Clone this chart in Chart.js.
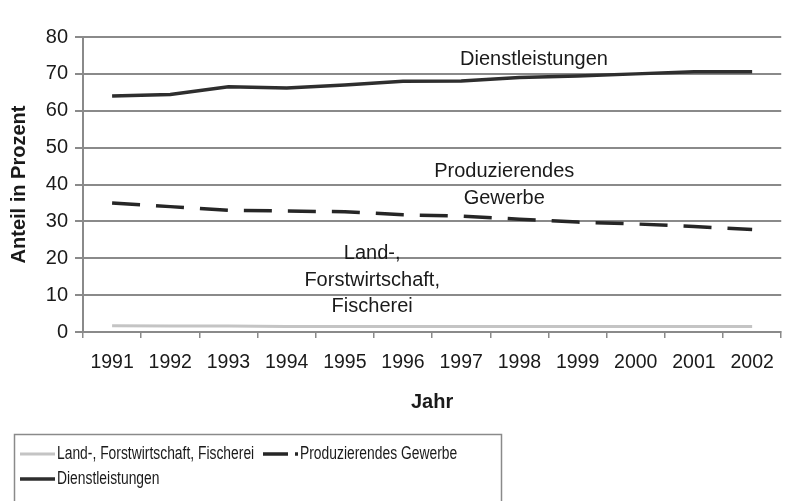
<!DOCTYPE html>
<html>
<head>
<meta charset="utf-8">
<script src="https://cdn.jsdelivr.net/npm/chart.js@4.4.1/dist/chart.umd.min.js"></script>
<style>
  html, body { margin: 0; padding: 0; background: #fff; }
  #wrap { width: 787px; height: 501px; }
</style>
</head>
<body>
<div id="wrap"><canvas id="chart" width="787" height="501"></canvas></div>
<script>
// Werte
const jahre = ['1991', '1992', '1993', '1994', '1995', '1996', '1997', '1998', '1999', '2000', '2001', '2002'];
const landwirtschaft = [1.7, 1.6, 1.6, 1.5, 1.5, 1.5, 1.5, 1.5, 1.5, 1.5, 1.5, 1.5];
const produzierend = [35.0, 34.0, 33.0, 32.8, 32.6, 31.8, 31.4, 30.6, 29.8, 29.3, 28.6, 27.8];
const dienstleistung = [64.0, 64.4, 66.5, 66.2, 67.0, 68.0, 68.1, 69.0, 69.4, 70.0, 70.6, 70.6];
const yTicks = [0, 10, 20, 30, 40, 50, 60, 70, 80];

const FONT = 'Arial, "Liberation Sans", sans-serif';

// Beschriftungen im Diagramm (x = Kategorie-Index, y = Wert)
const beschriftungen = [
    { text: 'Dienstleistungen', x: 7.25, y: 73.8 },
    { text: 'Produzierendes', x: 6.74, y: 43.4 },
    { text: 'Gewerbe', x: 6.74, y: 36.3 },
    { text: 'Land-,', x: 4.47, y: 21.4 },
    { text: 'Forstwirtschaft,', x: 4.47, y: 14.1 },
    { text: 'Fischerei', x: 4.47, y: 6.8 }
];

const labelPlugin = {
    id: 'labelPlugin',
    afterDatasetsDraw(chart) {
        const { ctx, scales: { x, y } } = chart;
        ctx.save();
        ctx.font = '20px ' + FONT;
        ctx.fillStyle = '#1a1a1a';
        ctx.textAlign = 'center';
        ctx.textBaseline = 'middle';
        beschriftungen.forEach(b => {
            ctx.fillText(b.text, x.getPixelForValue(b.x), y.getPixelForValue(b.y));
        });
        ctx.restore();
    }
};

// Legende mit Rahmen wie in Excel (Schrift etwas schmaler)
const legendPlugin = {
    id: 'legendPlugin',
    afterDraw(chart) {
        const ctx = chart.ctx;
        const ds = chart.data.datasets;
        ctx.save();
        ctx.strokeStyle = '#8a8a8a';
        ctx.lineWidth = 1.5;
        ctx.strokeRect(14.5, 434.5, 487, 80);

        const items = [
            { d: ds[0], x: 20, y: 454, dash: [] },
            { d: ds[1], x: 263, y: 454, dash: [25, 7, 3, 7] },
            { d: ds[2], x: 20, y: 479, dash: [] }
        ];
        items.forEach(it => {
            ctx.beginPath();
            ctx.setLineDash(it.dash);
            ctx.strokeStyle = it.d.borderColor;
            ctx.lineWidth = it.d.borderWidth;
            ctx.moveTo(it.x, it.y);
            ctx.lineTo(it.x + 35, it.y);
            ctx.stroke();
            ctx.setLineDash([]);

            ctx.save();
            ctx.translate(it.x + 37, it.y);
            ctx.scale(0.77, 1);
            ctx.font = '18px ' + FONT;
            ctx.fillStyle = '#1a1a1a';
            ctx.textBaseline = 'middle';
            ctx.textAlign = 'left';
            ctx.fillText(it.d.label, 0, 0);
            ctx.restore();
        });
        ctx.restore();
    }
};

new Chart(document.getElementById('chart'), {
    type: 'line',
    data: {
        labels: jahre,
        datasets: [
            {
                label: 'Land-, Forstwirtschaft, Fischerei',
                data: landwirtschaft,
                borderColor: '#c4c4c4',
                borderWidth: 3,
                pointRadius: 0,
                tension: 0
            },
            {
                label: 'Produzierendes Gewerbe',
                data: produzierend,
                borderColor: '#262626',
                borderWidth: 3.5,
                borderDash: [28, 16],
                pointRadius: 0,
                tension: 0
            },
            {
                label: 'Dienstleistungen',
                data: dienstleistung,
                borderColor: '#2e2e2e',
                borderWidth: 3.5,
                pointRadius: 0,
                tension: 0
            }
        ]
    },
    options: {
        responsive: false,
        animation: false,
        devicePixelRatio: 1,
        layout: { padding: { top: 37, right: 4, bottom: 81, left: 0 } },
        plugins: {
            legend: { display: false },
            tooltip: { enabled: false }
        },
        scales: {
            x: {
                offset: true,
                grid: {
                    offset: true,
                    drawOnChartArea: false,
                    tickLength: 6,
                    color: '#8a8a8a',
                    lineWidth: 1.5
                },
                border: { color: '#8a8a8a', width: 2 },
                ticks: {
                    color: '#1a1a1a',
                    padding: 13,
                    maxRotation: 0,
                    autoSkip: false,
                    font: { family: FONT, size: 19.5 }
                },
                title: {
                    display: true,
                    text: 'Jahr',
                    color: '#1a1a1a',
                    padding: { top: 0, bottom: 6 },
                    font: { family: FONT, size: 20, weight: 'bold' }
                },
                afterFit(scale) { scale.height = 88; }
            },
            y: {
                min: 0,
                max: 80,
                afterBuildTicks(scale) { scale.ticks = yTicks.map(v => ({ value: v })); },
                grid: {
                    color: '#8a8a8a',
                    lineWidth: 2,
                    tickLength: 8
                },
                border: { color: '#8a8a8a', width: 2 },
                ticks: {
                    color: '#1a1a1a',
                    padding: 7,
                    font: { family: FONT, size: 20 }
                },
                title: {
                    display: true,
                    text: 'Anteil in Prozent',
                    color: '#1a1a1a',
                    padding: { top: 7, bottom: 0 },
                    font: { family: FONT, size: 20, weight: 'bold' }
                },
                afterFit(scale) { scale.width = 83; }
            }
        }
    },
    plugins: [labelPlugin, legendPlugin]
});
</script>
</body>
</html>
